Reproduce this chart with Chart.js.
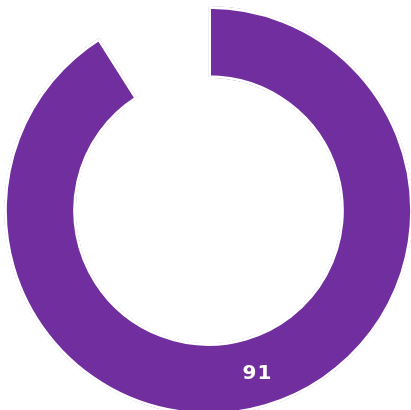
<!DOCTYPE html>
<html>
<head>
<meta charset="utf-8">
<script src="https://cdn.jsdelivr.net/npm/chart.js@4"></script>
<style>
    body { margin: 0; background: #fff; overflow: hidden; }
    #donut-chart { position: absolute; left: 4px; top: 6px; }
</style>
</head>
<body>
<canvas id="donut-chart" width="409" height="409"></canvas>
<script>
    const labels = ['Score', 'Rest'];
    const values = [91, 9];
    const colors = ['#702e9e', 'rgba(0,0,0,0)'];

    // Draw the value in the middle of the first arc
    const valueLabel = {
        id: 'valueLabel',
        afterDatasetsDraw(chart) {
            const ctx = chart.ctx;
            const arc = chart.getDatasetMeta(0).data[0];
            const pos = arc.tooltipPosition();
            ctx.save();
            ctx.fillStyle = '#ffffff';
            ctx.font = 'bold 20px "DejaVu Sans"';
            ctx.letterSpacing = '1px';
            ctx.textAlign = 'center';
            ctx.textBaseline = 'middle';
            ctx.fillText(String(values[0]), pos.x + 2, pos.y + 1.5);
            ctx.restore();
        }
    };

    const donutChart = new Chart(document.getElementById('donut-chart'), {
        type: 'doughnut',
        data: {
            labels: labels,
            datasets: [{
                backgroundColor: colors,
                borderColor: '#ffffff',
                borderWidth: [2.5, 0],
                borderAlign: 'inner',
                borderJoinStyle: 'miter',
                data: values,
            }]
        },
        options: {
            responsive: false,
            animation: false,
            cutout: '64.8%',
            plugins: {
                legend: { display: false },
                tooltip: { enabled: false }
            }
        },
        plugins: [valueLabel]
    });
</script>
</body>
</html>
